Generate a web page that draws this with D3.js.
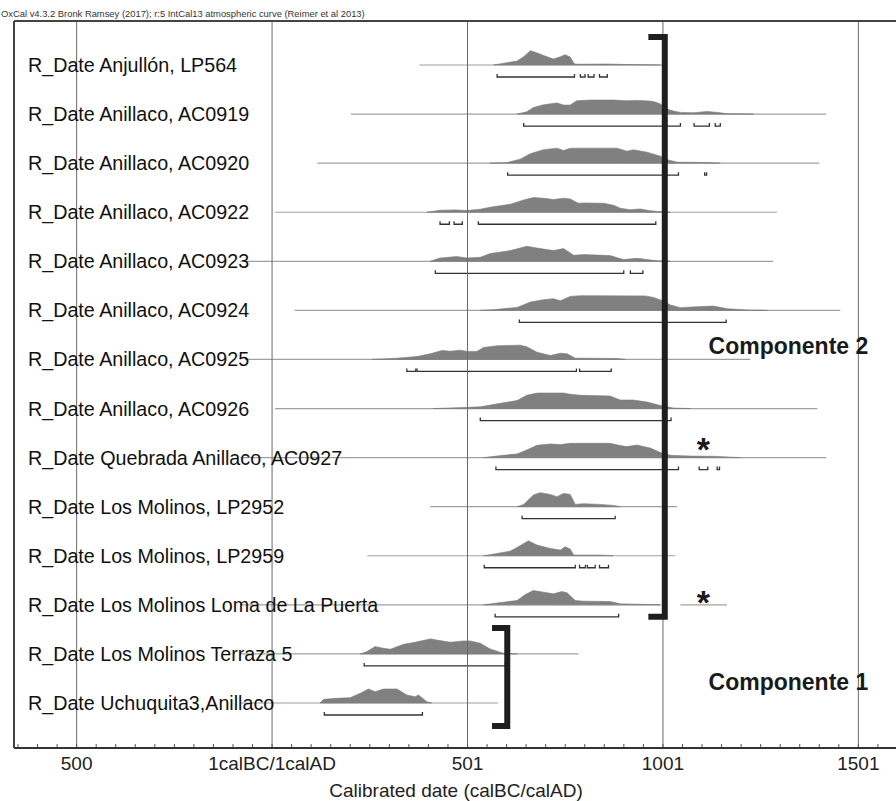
<!DOCTYPE html>
<html><head><meta charset="utf-8">
<script src="https://cdn.jsdelivr.net/npm/d3@7"></script>
<style>
html,body{margin:0;padding:0;background:#fff;}
svg{display:block;font-family:"Liberation Sans",Arial,sans-serif;}
</style></head>
<body>
<svg id="chart" width="896" height="801"></svg>
<script>
// ---------------- DATA ----------------
const headerText = "OxCal v4.3.2 Bronk Ramsey (2017); r:5 IntCal13 atmospheric curve (Reimer et al 2013)";
const axisTitle = "Calibrated date (calBC/calAD)";
const rowLabels = [
  "R_Date Anjullón, LP564",
  "R_Date Anillaco, AC0919",
  "R_Date Anillaco, AC0920",
  "R_Date Anillaco, AC0922",
  "R_Date Anillaco, AC0923",
  "R_Date Anillaco, AC0924",
  "R_Date Anillaco, AC0925",
  "R_Date Anillaco, AC0926",
  "R_Date Quebrada Anillaco, AC0927",
  "R_Date Los Molinos, LP2952",
  "R_Date Los Molinos, LP2959",
  "R_Date Los Molinos Loma de La Puerta",
  "R_Date Los Molinos Terraza 5",
  "R_Date Uchuquita3,Anillaco"
];
const majorTicks = [-500, 0, 500, 1000, 1500];
const tickLabels = ["500", "1calBC/1calAD", "501", "1001", "1501"];
const minorTicks = d3.range(-650, 1600, 50);

// extent of each row's thin baseline (years)
const baselineSegments = [
  [[378, 1000]],
  [[203, 1419]],
  [[117, 1401]],
  [[9, 1293]],
  [[-80, 1283]],
  [[59, 1455]],
  [[-68, 1225]],
  [[9, 1396]],
  [[-80, 1419]],
  [[406, 1037]],
  [[245, 1033]],
  [[-80, 995], [1046, 1165]],
  [[-80, 785]],
  [[-80, 580]]
];

// posterior probability curves: [year, relative probability]
const dist1 = [[568,0],[602,2.3],[628,4],[645,8.3],[662,14.3],[675,12.7],[696,9.5],[721,6],[739,8.3],[751,10.3],[764,8],[773,2],[777,1],[790,0.8],[858,1],[920,0.4],[995,0]];
const dist2 = [[628,0],[653,2.3],[670,6.5],[696,9.3],[730,11.2],[747,9],[764,9],[781,13.3],[815,14],[875,14],[909,13.3],[935,13.7],[969,13],[982,12],[995,10],[1012,5],[1028,3],[1046,1.7],[1079,1.3],[1115,2.7],[1148,1.3],[1166,0.3],[1233,0]];
const dist3 = [[559,0],[602,0.5],[636,4],[662,9.5],[696,13.5],[730,15],[747,12.7],[764,14.8],[781,15],[884,15],[909,12],[926,13.3],[960,11],[995,7],[1012,3.5],[1038,1],[1105,0.7],[1148,0]];
const dist4 = [[397,0],[431,2],[474,2.3],[500,1.7],[534,3],[559,5],[611,8],[645,12.3],[670,14.7],[696,14],[721,12.7],[747,14],[764,13.3],[785,9],[798,9.3],[849,9],[875,7],[892,4],[917,2.5],[943,3.3],[969,1.5],[995,0.5],[1020,0]];
const dist5 = [[406,0],[431,3.3],[474,4.7],[500,3.3],[534,4],[559,7.7],[611,10.7],[653,15],[679,13.3],[721,10.7],[747,12.7],[773,6],[798,6.7],[866,5.7],[900,1.7],[935,3],[986,0.5],[1020,0]];
const dist6 = [[534,0],[567,0.7],[628,3],[662,8.3],[696,10.7],[721,11.7],[739,9.7],[764,14],[790,14.7],[956,14.5],[977,13],[1002,9.5],[1020,5.5],[1046,2.7],[1089,3.7],[1130,4.3],[1166,1.7],[1217,0.3],[1268,0]];
const dist7 = [[257,0],[321,1.3],[372,3],[406,5.7],[436,9],[457,8.3],[483,9.3],[500,8],[525,8],[542,12],[577,13.7],[636,14.3],[653,12.7],[679,7.3],[713,4],[739,6.3],[756,5.7],[777,1.3],[798,1.3],[884,1],[905,0]];
const dist8 = [[414,0],[490,1],[534,1.7],[593,5.7],[628,8],[653,13.3],[679,15.5],[747,15.5],[764,14.3],[790,13.3],[866,12.5],[892,8.5],[925,8.5],[961,6.5],[995,3],[1028,0.5],[1072,0]];
const dist9 = [[542,0],[593,2.3],[628,3.7],[653,7.7],[679,12.3],[713,13.7],[739,13],[764,14.3],[866,14.3],[892,12],[909,11],[935,12.5],[969,9.5],[995,5],[1020,2.3],[1072,1.5],[1130,1.3],[1199,0]];
const dist10 = [[628,0],[645,2.3],[670,11.7],[687,14],[713,12.3],[730,10],[747,13.3],[764,12.3],[777,2.3],[798,3],[841,2.3],[875,1.3],[892,0]];
const dist11 = [[542,0],[577,2.3],[611,4.7],[628,8.3],[657,15],[679,10.7],[713,7.3],[739,5.7],[751,9],[764,6.7],[773,0.7],[841,0.7],[874,0]];
const dist12 = [[542,0],[593,2.7],[628,4.3],[649,10.3],[670,14.3],[696,12.7],[721,11],[743,13.3],[756,12],[777,4.3],[798,3.7],[866,3.3],[892,1],[969,0.3],[995,0]];
const dist13 = [[227,0],[244,2.3],[265,7.3],[286,5.7],[304,4.7],[338,9.7],[363,11.3],[406,15],[431,13.3],[457,11.7],[491,13],[508,13],[534,10.7],[559,5],[593,0.7],[628,0]];
const dist14 = [[124,0],[133,3.7],[167,4.7],[201,5.3],[227,9.7],[248,14],[265,11.3],[286,14],[321,14],[346,8],[367,6.3],[376,8],[397,1.3],[410,0]];
const distributions = [dist1,dist2,dist3,dist4,dist5,dist6,dist7,dist8,dist9,dist10,dist11,dist12,dist13,dist14];

// 95.4% probability ranges (years)
const ranges = [
  [[577,775],[790,802],[810,825],[839,859]],
  [[645,1046],[1081,1120],[1135,1148]],
  [[604,1041],[1108,1113]],
  [[431,455],[467,488],[529,983]],
  [[419,901],[918,950]],
  [[634,1163]],
  [[346,369],[372,780],[788,869]],
  [[534,1022]],
  [[574,1041],[1094,1116],[1140,1146]],
  [[641,879]],
  [[544,777],[788,803],[808,828],[839,862]],
  [[572,888]],
  [[237,598]],
  [[135,386]]
];

// component groupings
const componentNames = ["Componente 2", "Componente 1"];
const componentRows = [[0, 11], [12, 13]];
const componentBarYear = [1006, 603];
const componentCapYear = [964, 564];
const componentLabelYear = [1118, 1118];
const componentLabelRow = [6, 13];

// asterisk notes
const starRows = [8, 11];
const starYear = [1105, 1105];

// ---------------- LAYOUT ----------------
const W = 896, H = 801;
const plot = {left: 14, right: 895, top: 21, bottom: 748};
const compLayout = [
  {topOff: -28, botOff: 12, labelDy: -5},
  {topOff: -26, botOff: 23, labelDy: -13}
];
const starDy = [-11, -5];

const svg = d3.select("#chart");
const x = d3.scaleLinear().domain([-659, 1595]).range([plot.left, plot.right]);
const y = d3.scalePoint().domain(d3.range(rowLabels.length)).range([65, 703]);
const h = d3.scaleLinear().domain([0, 16]).range([0, 16]);

// header
svg.append("text").attr("x", 1).attr("y", 17)
  .attr("font-size", 9.4).attr("fill", "#333").text(headerText);

const area = d3.area()
  .x(d => x(d[0]))
  .y1(d => -h(d[1]))
  .y0(0)
  .curve(d3.curveLinear);

const rows = svg.append("g").selectAll("g.row")
  .data(rowLabels.map((l, i) => i))
  .join("g").attr("class", "row")
  .attr("transform", i => `translate(0,${y(i)})`);

rows.each(function(i) {
  const g = d3.select(this);
  baselineSegments[i].forEach(s => {
    g.append("line").attr("x1", x(s[0])).attr("x2", x(s[1]))
      .attr("y1", 0).attr("y2", 0)
      .attr("stroke", "#a0a0a0").attr("stroke-width", 1.2);
  });
  g.append("path").datum(distributions[i])
    .attr("d", area)
    .attr("fill", "#808080").attr("stroke", "#7a7a7a").attr("stroke-width", 0.6);
  ranges[i].forEach(r => {
    const x0 = x(r[0]), x1 = x(r[1]);
    g.append("path")
      .attr("d", `M${x0},9 L${x0},12 L${x1},12 L${x1},9`)
      .attr("fill", "none").attr("stroke", "#333").attr("stroke-width", 1.3);
  });
});

// axis with grid lines
const axisG = svg.append("g").attr("transform", `translate(0,${plot.bottom})`);
axisG.call(d3.axisBottom(x).tickValues(majorTicks)
  .tickFormat((d, i) => tickLabels[i])
  .tickSize(-(plot.bottom - plot.top)).tickPadding(6));
axisG.select(".domain").remove();
axisG.selectAll(".tick line").attr("stroke", "#6a6a6a").attr("stroke-width", 1);
axisG.selectAll(".tick text").attr("font-size", 19).attr("fill", "#222")
  .attr("font-family", "'Liberation Sans', Arial, sans-serif").attr("dy", "0.85em");

const minorG = svg.append("g").attr("transform", `translate(0,${plot.bottom})`);
minorG.call(d3.axisBottom(x).tickValues(minorTicks).tickFormat("").tickSize(-4));
minorG.select(".domain").remove();
minorG.selectAll(".tick line").attr("stroke", "#555");

// frame
svg.append("line").attr("x1", plot.left).attr("x2", W).attr("y1", plot.top).attr("y2", plot.top)
  .attr("stroke", "#444").attr("stroke-width", 2);
svg.append("line").attr("x1", plot.left).attr("x2", W).attr("y1", plot.bottom).attr("y2", plot.bottom)
  .attr("stroke", "#333").attr("stroke-width", 2);
svg.append("line").attr("x1", plot.left).attr("x2", plot.left).attr("y1", plot.top).attr("y2", plot.bottom)
  .attr("stroke", "#444").attr("stroke-width", 2);

// row labels
svg.append("g").selectAll("text").data(rowLabels).join("text")
  .attr("x", 28).attr("y", (d, i) => y(i) + 7)
  .attr("font-size", 19.7).attr("fill", "#111").text(d => d);

// component brackets
componentNames.forEach((name, k) => {
  const [r0, r1] = componentRows[k];
  const L = compLayout[k];
  const yt = y(r0) + L.topOff, yb = y(r1) + L.botOff;
  const xb = x(componentBarYear[k]), xc = x(componentCapYear[k]);
  svg.append("path")
    .attr("d", `M${xc},${yt} L${xb},${yt} L${xb},${yb} L${xc},${yb}`)
    .attr("fill", "none").attr("stroke", "#1e1e1e").attr("stroke-width", 6)
    .attr("stroke-linejoin", "miter");
  svg.append("text").attr("x", x(componentLabelYear[k]))
    .attr("y", y(componentLabelRow[k]) + L.labelDy)
    .attr("font-size", 23).attr("font-weight", "bold").attr("fill", "#1a1a1a")
    .text(name);
});

// asterisks
starRows.forEach((r, k) => {
  svg.append("text").attr("x", x(starYear[k])).attr("y", y(r) + starDy[k] + 14)
    .attr("text-anchor", "middle").attr("font-size", 34).attr("font-weight", "bold")
    .attr("fill", "#1a1a1a").text("*");
});

// axis title
svg.append("text").attr("x", 456).attr("y", 797).attr("text-anchor", "middle")
  .attr("font-size", 19).attr("fill", "#222").text(axisTitle);
</script>
</body></html>
